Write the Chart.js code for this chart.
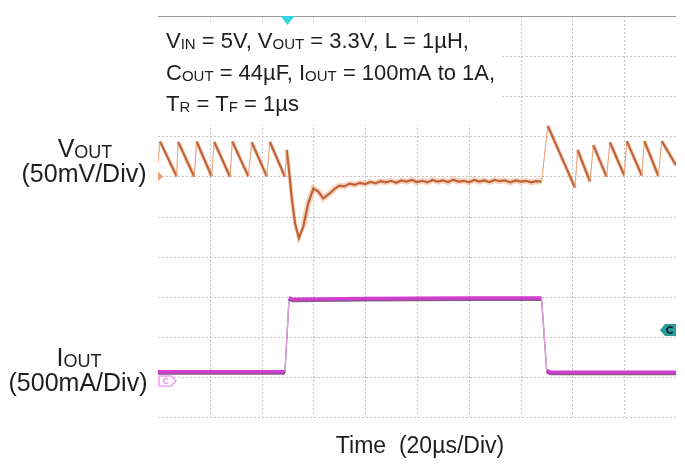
<!DOCTYPE html>
<html>
<head>
<meta charset="utf-8">
<script src="https://cdn.jsdelivr.net/npm/chart.js@4"></script>
<style>
  html, body { margin: 0; padding: 0; background: #fff; }
  #wrap { width: 685px; height: 466px; }
</style>
</head>
<body>
<div id="wrap"><canvas id="scope" width="685" height="466"></canvas></div>
<script>
// ---- data (x in µs, y in screen divisions, 0 = bottom grid line) ----
const voutTime = [0, 0.8, 7.2, 7.8, 14.0, 14.9, 20.7, 21.7, 27.8, 28.7, 34.9, 36.2, 42.0, 43.2, 49.0, 49.7,
    50.3, 51.6, 52.9, 54.4, 56.1, 58.0, 60.0, 61.9, 63.8, 66.4,
    68, 70, 72, 74, 76, 78, 80, 82, 84, 86, 88, 90, 92, 94, 96, 98, 100, 102, 104, 106, 108, 110,
    112, 114, 116, 118, 120, 122, 124, 126, 128, 130, 132, 134, 136, 138, 140, 142, 144, 146, 148.1,
    150.5, 161.0, 162.0, 166.8, 168.1, 173.2, 174.5, 180.0, 181.0, 186.8, 187.8, 193.2, 194.5, 200];
const voutDiv = [6.35, 6.87, 6.0, 6.86, 5.99, 6.87, 6.0, 6.86, 5.99, 6.87, 6.0, 6.85, 6.0, 6.86, 5.99, 6.66,
    6.33, 5.49, 4.83, 4.46, 4.75, 5.33, 5.70, 5.62, 5.45, 5.58,
    5.68, 5.77, 5.75, 5.82, 5.79, 5.84, 5.81, 5.86, 5.83, 5.88, 5.85, 5.89, 5.84, 5.90, 5.87, 5.91, 5.86, 5.89, 5.85, 5.91, 5.87, 5.90,
    5.86, 5.92, 5.87, 5.89, 5.85, 5.91, 5.87, 5.90, 5.86, 5.91, 5.88, 5.90, 5.85, 5.90, 5.87, 5.89, 5.85, 5.88, 5.87,
    7.26, 5.72, 6.66, 5.87, 6.78, 5.99, 6.85, 6.03, 6.88, 6.02, 6.88, 6.01, 6.88, 6.28];

const ioutTime = [0, 49.0, 50.6, 52, 80, 120, 148.1, 150.1, 151.5, 200];
const ioutDiv = [1.13, 1.13, 2.98, 2.94, 2.96, 2.97, 2.97, 1.16, 1.12, 1.12];

// grid: 10 x 10 divisions, 20µs per horizontal division
const xGrid = [0, 20, 40, 60, 80, 100, 120, 140, 160, 180, 200];
const yGrid = [0, 1, 2, 3, 4, 5, 6, 7, 8, 9, 10];

// scope markers
const triggerTime = 50;
const ch3Level = 0.9;
const ch1Level = 6.0;
const triggerLevel = 2.17;

const FONT = '"Liberation Sans", Arial, sans-serif';

const toPoints = (xs, ys) => xs.map((x, i) => ({ x: x, y: ys[i] }));

function slope(ctx) {
    const dx = ctx.p1.parsed.x - ctx.p0.parsed.x;
    return (ctx.p1.parsed.y - ctx.p0.parsed.y) / (dx || 0.001);
}

// text with small-caps style subscripts: parts = [[text, isSub], ...]
function richText(ctx, parts, x, y, size, align) {
    const sub = Math.round(size * 0.7);
    let w = 0;
    parts.forEach(p => {
        ctx.font = (p[1] ? sub : size) + 'px ' + FONT;
        w += ctx.measureText(p[0]).width;
    });
    let cx = align === 'center' ? x - w / 2 : x;
    ctx.textAlign = 'left';
    ctx.textBaseline = 'alphabetic';
    parts.forEach(p => {
        ctx.font = (p[1] ? sub : size) + 'px ' + FONT;
        ctx.fillText(p[0], cx, p[1] ? y + 1 : y);
        cx += ctx.measureText(p[0]).width;
    });
}

const scopePlugin = {
    id: 'scope',
    beforeDatasetsDraw(chart) {
        const { ctx, chartArea: a, scales } = chart;
        ctx.save();
        ctx.strokeStyle = '#c4c4c4';
        ctx.lineWidth = 1;
        ctx.setLineDash([2, 2]);
        xGrid.slice(1, -1).forEach(t => {
            const px = Math.round(scales.x.getPixelForValue(t)) + 0.5;
            ctx.beginPath(); ctx.moveTo(px, a.top); ctx.lineTo(px, a.bottom); ctx.stroke();
        });
        yGrid.slice(0, -1).forEach(v => {
            const py = Math.round(scales.y.getPixelForValue(v)) + 0.5;
            ctx.beginPath(); ctx.moveTo(a.left, py); ctx.lineTo(a.right, py); ctx.stroke();
        });
        ctx.setLineDash([]);
        ctx.strokeStyle = '#9a9a9a';
        const top = Math.round(a.top) + 0.5;
        ctx.beginPath(); ctx.moveTo(a.left, top); ctx.lineTo(a.right, top); ctx.stroke();

        // white box behind the conditions text
        ctx.fillStyle = '#fff';
        ctx.fillRect(a.left, a.top + 8, 343, 101);

        ctx.fillStyle = '#1e1e1e';
        const tx = a.left + 8;
        richText(ctx, [['V', 0], ['IN', 1], [' = 5V, V', 0], ['OUT', 1], [' = 3.3V, L = 1\u00b5H,', 0]], tx, 48, 22);
        richText(ctx, [['C', 0], ['OUT', 1], [' = 44\u00b5F, I', 0], ['OUT', 1], [' = 100mA to 1A,', 0]], tx, 80, 22);
        richText(ctx, [['T', 0], ['R', 1], [' = T', 0], ['F', 1], [' = 1\u00b5s', 0]], tx, 111, 22);
        ctx.restore();
    },
    beforeDatasetDraw(chart, args) {
        const ctx = chart.ctx;
        ctx.save();
        if (args.index === 2) {
            ctx.shadowColor = 'rgba(90,20,90,0.7)';
            ctx.shadowOffsetY = 1.5;
            ctx.shadowBlur = 0;
        }
    },
    afterDatasetDraw(chart) {
        chart.ctx.restore();
    },
    afterDatasetsDraw(chart) {
        const { ctx, chartArea: a, scales } = chart;
        ctx.save();
        // trigger position
        const tp = scales.x.getPixelForValue(triggerTime);
        ctx.fillStyle = '#35d3e3';
        ctx.beginPath();
        ctx.moveTo(tp - 7, a.top); ctx.lineTo(tp + 7, a.top); ctx.lineTo(tp, a.top + 9);
        ctx.closePath(); ctx.fill();

        // trigger level (right)
        const ty = scales.y.getPixelForValue(triggerLevel);
        ctx.fillStyle = '#2a9d9a';
        ctx.beginPath();
        ctx.moveTo(a.right - 16, ty); ctx.lineTo(a.right - 11, ty - 6); ctx.lineTo(a.right, ty - 6);
        ctx.lineTo(a.right, ty + 6); ctx.lineTo(a.right - 11, ty + 6); ctx.closePath(); ctx.fill();
        ctx.strokeStyle = '#123';
        ctx.lineWidth = 1.6;
        ctx.beginPath(); ctx.arc(a.right - 6, ty, 3, 0.6, Math.PI * 2 - 0.6, false); ctx.stroke();

        // channel 1 ground marker (left)
        const c1 = scales.y.getPixelForValue(ch1Level);
        ctx.fillStyle = '#f0a070';
        ctx.beginPath();
        ctx.moveTo(a.left, c1 - 5); ctx.lineTo(a.left + 5, c1); ctx.lineTo(a.left, c1 + 5);
        ctx.closePath(); ctx.fill();

        // channel 3 marker (left)
        const c3 = scales.y.getPixelForValue(ch3Level);
        ctx.strokeStyle = '#f29cf2';
        ctx.fillStyle = '#fff';
        ctx.lineWidth = 1.5;
        ctx.beginPath();
        ctx.moveTo(a.left + 1, c3 - 5); ctx.lineTo(a.left + 13, c3 - 5); ctx.lineTo(a.left + 18, c3);
        ctx.lineTo(a.left + 13, c3 + 5); ctx.lineTo(a.left + 1, c3 + 5); ctx.closePath();
        ctx.fill(); ctx.stroke();
        ctx.beginPath(); ctx.arc(a.left + 8, c3, 2.5, 0.6, Math.PI * 2 - 0.6, false); ctx.stroke();

        // channel labels and time base
        ctx.fillStyle = '#1e1e1e';
        richText(ctx, [['V', 0], ['OUT', 1]], 85, 157, 25, 'center');
        richText(ctx, [['(50mV/Div)', 0]], 84, 182, 25, 'center');
        richText(ctx, [['I', 0], ['OUT', 1]], 79, 366, 25, 'center');
        richText(ctx, [['(500mA/Div)', 0]], 78, 391, 25, 'center');
        richText(ctx, [['Time  (20\u00b5s/Div)', 0]], 420, 453, 23, 'center');
        ctx.restore();
    }
};

const voutPoints = toPoints(voutTime, voutDiv);

new Chart(document.getElementById('scope'), {
    type: 'scatter',
    data: {
        datasets: [
            {   // glow around the voltage trace
                data: voutPoints,
                showLine: true,
                pointRadius: 0,
                borderColor: 'rgba(236,150,100,0.4)',
                borderWidth: 4,
                segment: {
                    borderWidth: c => slope(c) > 0.5 ? 1 : (c.p0.parsed.x > 56 && c.p1.parsed.x < 149 ? 6 : 4)
                }
            },
            {
                data: voutPoints,
                showLine: true,
                pointRadius: 0,
                borderColor: '#a3401a',
                borderWidth: 2.2,
                segment: {
                    borderColor: c => slope(c) > 0.5 ? '#e9a987' : '#a3401a',
                    borderWidth: c => slope(c) > 0.5 ? 1 : 2.2
                }
            },
            {
                data: toPoints(ioutTime, ioutDiv),
                showLine: true,
                pointRadius: 0,
                borderColor: '#d23cd2',
                borderWidth: 3.2,
                segment: {
                    borderColor: c => Math.abs(slope(c)) > 0.5 ? '#e0a4e0' : '#d23cd2',
                    borderWidth: c => Math.abs(slope(c)) > 0.5 ? 1.3 : 3.2
                }
            }
        ]
    },
    options: {
        responsive: false,
        animation: false,
        devicePixelRatio: 1,
        layout: { padding: { left: 158, right: 9, top: 16, bottom: 49 } },
        plugins: { legend: { display: false }, tooltip: { enabled: false } },
        scales: {
            x: { type: 'linear', min: 0, max: 200, display: false },
            y: { type: 'linear', min: 0, max: 10, display: false }
        }
    },
    plugins: [scopePlugin]
});
</script>
</body>
</html>
